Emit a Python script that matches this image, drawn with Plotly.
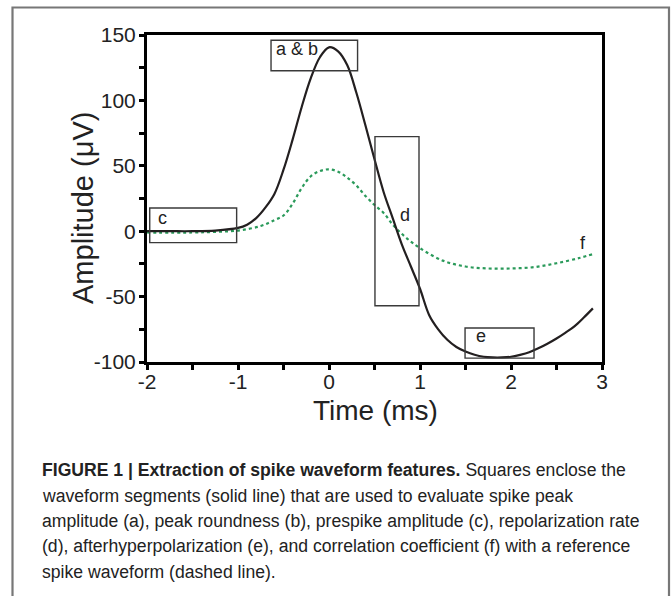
import plotly.graph_objects as go

# ---- data ----
t_solid = [-2.0, -1.75, -1.5, -1.25, -1.0, -0.9, -0.8, -0.7, -0.6, -0.5, -0.4, -0.3, -0.2, -0.1, 0.0,
           0.1, 0.2, 0.3, 0.4, 0.5, 0.6, 0.7, 0.8, 0.9, 1.0, 1.1, 1.2, 1.3, 1.4, 1.5, 1.6, 1.7, 1.8,
           1.9, 2.0, 2.1, 2.2, 2.3, 2.4, 2.5, 2.6, 2.7, 2.8, 2.9]
v_solid = [0, 0, 0, 0.5, 2.5, 5, 10, 18, 28.5, 47, 70, 95, 117, 133, 140.6,
           137.5, 127, 106, 81, 55, 30, 10, -10, -27, -44, -64, -75, -83, -88.5, -92, -94.5, -96, -96.5,
           -96.5, -96, -94.5, -92.5, -89.5, -86, -82, -77.5, -72.5, -66, -59]

t_ref = [-2.0, -1.5, -1.25, -1.0, -0.75, -0.6, -0.5, -0.4, -0.3, -0.2, -0.1, 0.0, 0.1, 0.2, 0.3, 0.4,
         0.5, 0.6, 0.7, 0.8, 0.9, 1.0, 1.25, 1.5, 1.75, 2.0, 2.25, 2.5, 2.75, 2.9]
v_ref = [-1, -1, -0.5, 0.5, 4, 8.5, 12, 21, 33, 42, 46, 47.3, 45.5, 41, 35, 27,
         20, 14, 5, -2, -8, -13, -22.5, -27, -28.5, -28.5, -27.5, -24.5, -20.5, -17.5]

# feature boxes: label, x0, x1, y0, y1
box_labels = ["a & b", "c", "d", "e"]
box_x0 = [-0.637, -1.97, 0.505, 1.495]
box_x1 = [0.314, -1.015, 0.989, 2.253]
box_y0 = [122.7, -8.7, -57, -97]
box_y1 = [146, 17.7, 72.3, -74]
label_x = [-0.6, -1.9, 0.835, 1.59]
label_y = [139, 10, 12.4, -80]

f_label = "f"
f_x, f_y = 2.79, -9

x_ticks = [-2, -1, 0, 1, 2, 3]
y_ticks = [-100, -50, 0, 50, 100, 150]

caption_lines = [
    "<b>FIGURE 1 | Extraction of spike waveform features.</b> Squares enclose the",
    "waveform segments (solid line) that are used to evaluate spike peak",
    "amplitude (a), peak roundness (b), prespike amplitude (c), repolarization rate",
    "(d), afterhyperpolarization (e), and correlation coefficient (f) with a reference",
    "spike waveform (dashed line).",
]

# ---- layout geometry (pixels) ----
W, H = 671, 596
L, R, T, B = 147, 602, 35, 362


def px(xp):
    return (xp - L) / (R - L)


def py(yp):
    return (B - yp) / (B - T)


fig = go.Figure()

fig.add_trace(go.Scatter(x=t_ref, y=v_ref, mode="lines",
                         line=dict(color="#2a9a5a", width=2.2, dash="dot", shape="spline"),
                         hoverinfo="skip", showlegend=False))
fig.add_trace(go.Scatter(x=t_solid, y=v_solid, mode="lines",
                         line=dict(color="#231f20", width=2.2, shape="spline"),
                         hoverinfo="skip", showlegend=False))

shapes = []
annotations = []
for lab, x0, x1, y0, y1, lx, ly in zip(box_labels, box_x0, box_x1, box_y0, box_y1, label_x, label_y):
    shapes.append(dict(type="rect", xref="x", yref="y", x0=x0, x1=x1, y0=y0, y1=y1,
                       line=dict(color="#3a3a3a", width=1.4), fillcolor="rgba(0,0,0,0)"))
    annotations.append(dict(x=lx, y=ly, xref="x", yref="y", text=lab, showarrow=False,
                            xanchor="left" if lab != "d" else "center", yanchor="middle",
                            font=dict(family="Liberation Sans, Arial", size=18, color="#222")))
annotations.append(dict(x=f_x, y=f_y, xref="x", yref="y", text=f_label, showarrow=False,
                        xanchor="center", yanchor="middle",
                        font=dict(family="Liberation Sans, Arial", size=18, color="#222")))

# outer figure frame
shapes.append(dict(type="path", xref="paper", yref="paper",
                   path=f"M {px(12.5)} {py(620)} L {px(12.5)} {py(7.5)} L {px(669)} {py(7.5)} L {px(669)} {py(620)}",
                   line=dict(color="#777777", width=2.2)))

# axis titles
annotations.append(dict(x=px(83), y=py(208), xref="paper", yref="paper", text="Amplitude (μV)",
                        textangle=-90, showarrow=False, xanchor="center", yanchor="middle",
                        font=dict(family="Liberation Sans, Arial", size=29, color="#222")))
annotations.append(dict(x=px(375), y=py(410), xref="paper", yref="paper", text="Time (ms)",
                        showarrow=False, xanchor="center", yanchor="middle",
                        font=dict(family="Liberation Sans, Arial", size=28, color="#222")))

# caption
cap_y = [470, 496, 521, 546, 572]
for line, yy in zip(caption_lines, cap_y):
    annotations.append(dict(x=px(40), y=py(yy), xref="paper", yref="paper", text=line,
                            showarrow=False, xanchor="left", yanchor="middle",
                            font=dict(family="Liberation Sans, Arial", size=17.6, color="#222")))

fig.update_layout(
    width=W, height=H,
    margin=dict(l=L, r=W - R, t=T, b=H - B),
    paper_bgcolor="white", plot_bgcolor="white",
    shapes=shapes, annotations=annotations,
    showlegend=False,
)
axis_common = dict(showgrid=False, zeroline=False, showline=True, linecolor="black", linewidth=3,
                   mirror=True, ticks="outside", ticklen=5, tickwidth=2.5, tickcolor="black",
                   tickfont=dict(family="Liberation Sans, Arial", size=21, color="#222"))
fig.update_xaxes(range=[-2, 3], tickvals=x_ticks, ticktext=[str(v) for v in x_ticks],
                 ticklabelstandoff=-6,
                 minor=dict(dtick=0.5, ticks="outside", ticklen=5, tickwidth=2.5, tickcolor="black"),
                 **axis_common)
fig.update_yaxes(range=[-100, 150], tickvals=y_ticks, ticktext=[str(v) for v in y_ticks],
                 ticklabelstandoff=-1,
                 minor=dict(dtick=25, ticks="outside", ticklen=5, tickwidth=2.5, tickcolor="black"),
                 **axis_common)

fig.write_html("out.html")
